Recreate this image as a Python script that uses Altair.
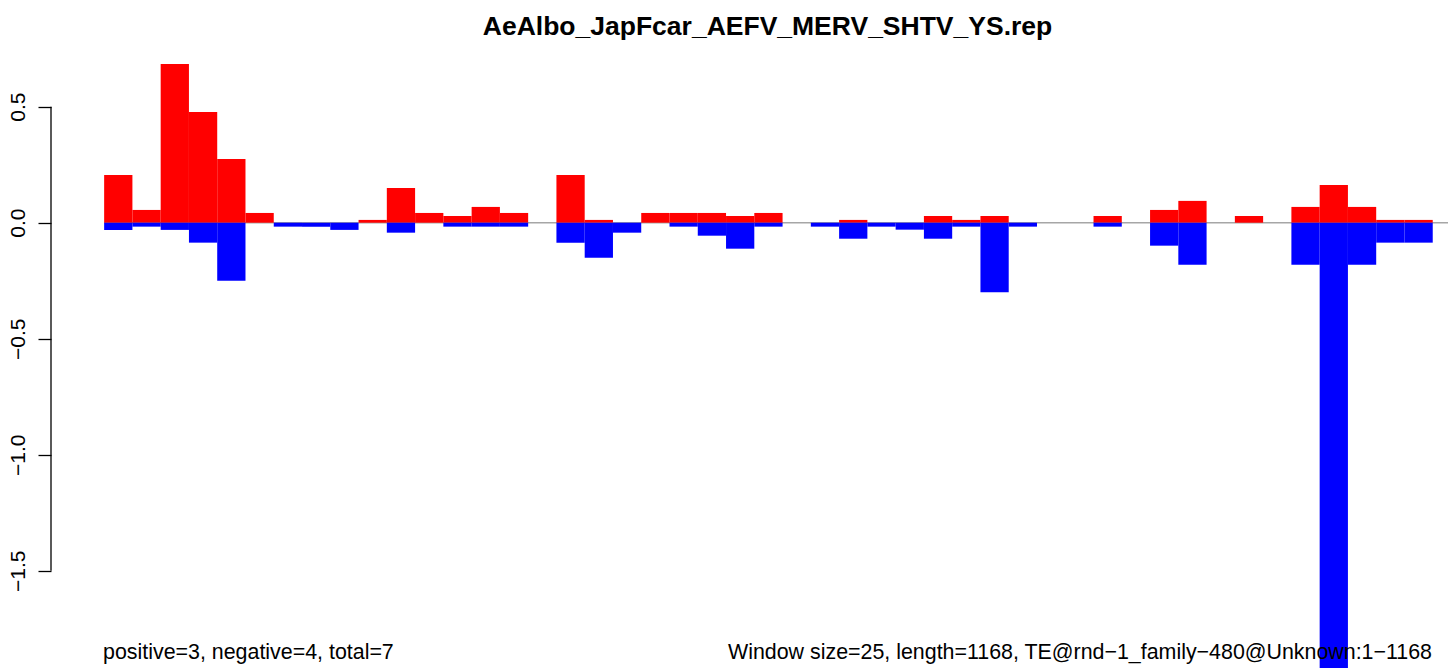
import altair as alt
import pandas as pd

# ---- data ----
windows = list(range(47))
pos_vals = [0.206, 0.055, 0.684, 0.477, 0.275, 0.042, 0.0, 0.0, 0.0, 0.012,
            0.150, 0.042, 0.029, 0.068, 0.042, 0.0, 0.206, 0.012, 0.0, 0.042,
            0.042, 0.042, 0.029, 0.042, 0.0, 0.0, 0.012, 0.0, 0.0, 0.029,
            0.012, 0.029, 0.0, 0.0, 0.0, 0.029, 0.0, 0.055, 0.094, 0.0,
            0.029, 0.0, 0.068, 0.163, 0.068, 0.012, 0.012]
neg_vals = [-0.031, -0.017, -0.031, -0.086, -0.250, 0.0, -0.017, -0.017, -0.031, 0.0,
            -0.043, 0.0, -0.017, -0.017, -0.017, 0.0, -0.086, -0.151, -0.043, 0.0,
            -0.017, -0.056, -0.112, -0.017, 0.0, -0.017, -0.069, -0.017, -0.030, -0.069,
            -0.017, -0.300, -0.017, 0.0, 0.0, -0.017, 0.0, -0.099, -0.181, 0.0,
            0.0, 0.0, -0.181, -1.950, -0.181, -0.086, -0.086]
y_ticks = [0.5, 0.0, -0.5, -1.0, -1.5]
title_text = "AeAlbo_JapFcar_AEFV_MERV_SHTV_YS.rep"
left_note = "positive=3, negative=4, total=7"
right_note = "Window size=25, length=1168, TE@rnd\u22121_family\u2212480@Unknown:1\u22121168"

FONT = "Liberation Sans"
W, H = 1397, 618

rows = []
for w, p, n in zip(windows, pos_vals, neg_vals):
    rows.append({"start": w, "end": w + 1, "value": p, "sign": "pos"})
    rows.append({"start": w, "end": w + 1, "value": n, "sign": "neg"})
bars_df = pd.DataFrame(rows)

xs = alt.Scale(domain=[-1.88, 47.54], nice=False, zero=False)
ys = alt.Scale(domain=[-1.9194, 0.7444], nice=False, zero=False)

yaxis = alt.Axis(values=y_ticks, format=".1f", labelAngle=-90, labelAlign="center",
                 labelBaseline="alphabetic", labelFontSize=21, labelFont=FONT,
                 labelColor="black", tickSize=13, tickColor="black", tickWidth=1.3,
                 domain=False, grid=False, labelPadding=14, title=None)

zero_line = alt.Chart(pd.DataFrame({"level": [0.0]})).mark_rule(
    color="#A6A6A6", strokeWidth=1.5
).encode(
    x=alt.X("level:Q", scale=xs, axis=None),
    x2=alt.value(W),
    y=alt.Y("level:Q", scale=ys, axis=yaxis),
)

bars = alt.Chart(bars_df).transform_filter("datum.value != 0").mark_bar(
    clip=True, strokeWidth=0
).encode(
    x=alt.X("start:Q", scale=xs, axis=None),
    x2="end:Q",
    y=alt.Y("value:Q", scale=ys, axis=yaxis),
    y2=alt.datum(0),
    color=alt.Color("sign:N", scale=alt.Scale(domain=["pos", "neg"], range=["#FF0000", "#0000FF"]), legend=None),
)

axis_line = alt.Chart(pd.DataFrame({"top": [y_ticks[0]], "bottom": [y_ticks[-1]]})).mark_rule(
    color="black", strokeWidth=1.3
).encode(
    x=alt.value(0),
    y=alt.Y("top:Q", scale=ys, axis=yaxis),
    y2="bottom:Q",
)

title_mark = alt.Chart(pd.DataFrame({"t": [title_text]})).mark_text(
    align="center", baseline="alphabetic", fontSize=26.5, font=FONT,
    fontWeight="bold", color="black"
).encode(x=alt.value(W / 2 + 18), y=alt.value(-15), text="t:N")

note_l = alt.Chart(pd.DataFrame({"note": [left_note]})).mark_text(
    align="left", baseline="alphabetic", fontSize=21.4, font=FONT, color="black"
).encode(x=alt.value(52), y=alt.value(609), text="note:N")

note_r = alt.Chart(pd.DataFrame({"note": [right_note]})).mark_text(
    align="right", baseline="alphabetic", fontSize=21.4, font=FONT, color="black"
).encode(x=alt.value(1381), y=alt.value(609), text="note:N")

chart = alt.layer(zero_line, bars, axis_line, title_mark, note_l, note_r).properties(
    width=W, height=H,
    autosize=alt.AutoSizeParams(type="none"),
    padding={"left": 43, "top": 42, "right": 0, "bottom": 0},
    background="white",
).configure_view(stroke=None)

chart.save("out.html", embed_options={"renderer": "svg", "actions": False})
